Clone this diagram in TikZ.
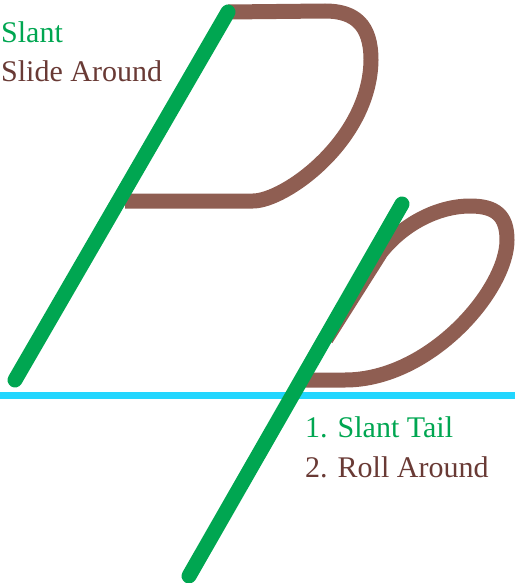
\documentclass[tikz,border=0pt]{standalone}
\usepackage{fontspec}
\setmainfont{Liberation Serif}
\usetikzlibrary{positioning}
\definecolor{Green}{HTML}{00A651}
\definecolor{Brown}{HTML}{8F5E52}
\definecolor{BrownDark}{HTML}{693A35}
\definecolor{Sky}{HTML}{22D6FF}
\tikzset{slantline/.style={draw=Green,line width=15pt,line cap=round},rollline/.style={draw=Brown,line width=15pt,line join=round},guide/.style={draw=Sky,line width=7.5pt},note/.style={font=\fontsize{30}{36}\selectfont,anchor=base west,inner sep=0pt}}

\begin{document}
\begin{tikzpicture}[x=1pt,y=-1pt]
      \useasboundingbox (0,0) rectangle (515,583);
      \coordinate (g0) at (0,395.5);\coordinate (g1) at (515,395.5);
      \draw[guide](g0)--(g1);
      % capital P
      \coordinate (Pa) at (15,380);\coordinate (Pb) at (228,12);
      \draw[rollline](125,201)--(253,201)..controls(285,201)and(370,140)..(371,60)..controls(371,25)and(355,11)..(325,11)--(Pb);
      \draw[slantline](Pa)--(Pb);
      % small p
      \coordinate (pa) at (189,576);\coordinate (pb) at (402,204);
      \draw[rollline](303,380)--(345,380)..controls(430,380)and(507,290)..(507,240)..controls(507,215)and(495,206)..(470,206)..controls(440,206)and(405,222)..(381,252)--(326,339);
      \draw[slantline](pa)--(pb);
      \node[note,text=Green](slant) at (1,43){Slant};
      \node[note,text=BrownDark](slide) at (1,82){Slide Around};
      \node[note,text=Green](tail) at (305,437){1. Slant Tail};
      \node[note,text=BrownDark](roll) at (305,477){2. Roll Around};
    \end{tikzpicture}
\end{document}
